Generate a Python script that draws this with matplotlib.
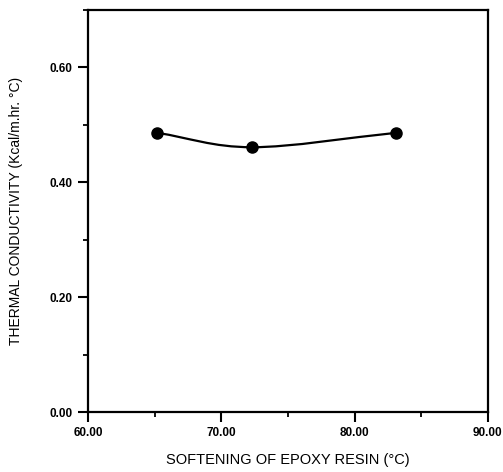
import numpy as np
import matplotlib
matplotlib.use("Agg")
import matplotlib.pyplot as plt
from matplotlib.path import Path
from matplotlib.patches import PathPatch
from matplotlib.ticker import MultipleLocator, FormatStrFormatter

# softening point of epoxy resin (C) vs thermal conductivity
softening = [65.2, 72.3, 83.1]
conductivity = [0.486, 0.461, 0.486]

plt.rcParams["font.family"] = ["Liberation Sans", "DejaVu Sans"]

fig = plt.figure(figsize=(5.03, 4.72), dpi=100)
ax = fig.add_axes([0.175, 0.127, 0.795, 0.852])

# smooth curve through the points (catmull-rom style bezier segments)
pts = np.column_stack([softening, conductivity])
tang = np.gradient(pts, axis=0)
verts = [pts[0]]
codes = [Path.MOVETO]
for i in range(len(pts) - 1):
    verts += [pts[i] + tang[i] / 3, pts[i + 1] - tang[i + 1] / 3, pts[i + 1]]
    codes += [Path.CURVE4] * 3
ax.add_patch(PathPatch(Path(verts, codes), fill=False, color="black", lw=1.6))
ax.plot(softening, conductivity, "o", color="black", ms=8)

ax.set_xlim(60, 90)
ax.set_ylim(0, 0.70)
ax.xaxis.set_major_locator(MultipleLocator(10))
ax.xaxis.set_minor_locator(MultipleLocator(5))
ax.yaxis.set_major_locator(MultipleLocator(0.2))
ax.yaxis.set_minor_locator(MultipleLocator(0.1))
ax.xaxis.set_major_formatter(FormatStrFormatter("%.2f"))
ax.yaxis.set_major_formatter(FormatStrFormatter("%.2f"))

for s in ax.spines.values():
    s.set_linewidth(1.6)
ax.tick_params(which="major", direction="out", length=7, width=1.5, labelsize=8.5, pad=4)
ax.tick_params(which="minor", direction="out", length=3.5, width=1.3)
for lbl in ax.get_xticklabels() + ax.get_yticklabels():
    lbl.set_fontweight("bold")

ax.set_xlabel("SOFTENING OF EPOXY RESIN (°C)", fontsize=10.5)
ax.set_ylabel("THERMAL CONDUCTIVITY (Kcal/m.hr. °C)", fontsize=10)
ax.xaxis.set_label_coords(0.5, -0.103)
ax.yaxis.set_label_coords(-0.162, 0.5)

fig.savefig("out.png", dpi=100)
